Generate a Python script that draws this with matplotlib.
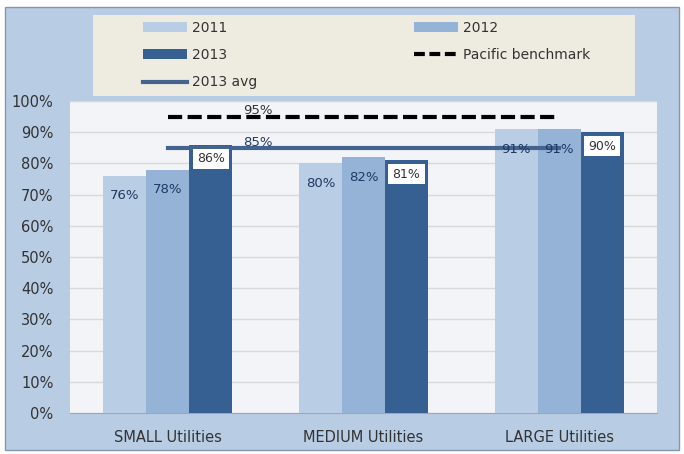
import numpy as np
import matplotlib.pyplot as plt
from matplotlib.patches import Rectangle, Patch
from matplotlib.lines import Line2D

categories = ["SMALL Utilities", "MEDIUM Utilities", "LARGE Utilities"]
vals_2011 = [0.76, 0.80, 0.91]
vals_2012 = [0.78, 0.82, 0.91]
vals_2013 = [0.86, 0.81, 0.90]
benchmark = 0.95
avg_2013 = 0.85
yticks = [0.0, 0.1, 0.2, 0.3, 0.4, 0.5, 0.6, 0.7, 0.8, 0.9, 1.0]

c2011 = "#b9cde5"
c2012 = "#95b3d7"
c2013 = "#376092"
cavg = "#44648f"
txt = "#333333"

fig = plt.figure(figsize=(6.84, 4.54), dpi=100)
fig.patch.set_facecolor("white")

# outer chart area
fig.patches.append(
    Rectangle(
        (5 / 684, 4 / 454),
        674 / 684,
        443 / 454,
        transform=fig.transFigure,
        facecolor="#b8cce4",
        edgecolor="#8497b0",
        linewidth=1,
        zorder=-2,
    )
)
# legend box
fig.patches.append(
    Rectangle(
        (93 / 684, 1 - 96 / 454),
        542 / 684,
        81 / 454,
        transform=fig.transFigure,
        facecolor="#eeece1",
        edgecolor="none",
        zorder=-1,
    )
)

ax = fig.add_axes([70 / 684, 1 - 413 / 454, 587 / 684, 312 / 454])
ax.set_zorder(2)
ax.set_facecolor("#f3f4f8")

x = np.arange(len(categories))
w = 0.22

b1 = ax.bar(x - w, vals_2011, w, color=c2011, zorder=3)
b2 = ax.bar(x, vals_2012, w, color=c2012, zorder=3)
b3 = ax.bar(x + w, vals_2013, w, color=c2013, zorder=3)

ax.plot([x[0], x[-1]], [benchmark, benchmark], color="black",
        linestyle=(0, (3.4, 1.3)), linewidth=3, zorder=5)
ax.plot([x[0], x[-1]], [avg_2013, avg_2013], color=cavg,
        linewidth=3, zorder=5)
ax.text(0.46, benchmark + 0.02, f"{benchmark:.0%}", ha="center", va="center",
        fontsize=9.5, color=txt, zorder=6)
ax.text(0.46, avg_2013 + 0.018, f"{avg_2013:.0%}", ha="center", va="center",
        fontsize=9.5, color="#1f3864", zorder=6)

for bars, vals in [(b1, vals_2011), (b2, vals_2012)]:
    for r, v in zip(bars, vals):
        ax.text(r.get_x() + r.get_width() / 2, v - 0.064, f"{v:.0%}",
                ha="center", va="center", fontsize=9.5, color="#1f3864", zorder=6)

box_h = 0.064
for r, v in zip(b3, vals_2013):
    cx = r.get_x() + r.get_width() / 2
    bw = r.get_width() * 0.84
    top = v - 0.013
    ax.add_patch(Rectangle((cx - bw / 2, top - box_h), bw, box_h,
                           facecolor="white", edgecolor="none", zorder=5))
    ax.text(cx, top - box_h / 2, f"{v:.0%}", ha="center", va="center",
            fontsize=9, color=txt, zorder=6)

ax.set_ylim(0, 1.0)
ax.set_xlim(-0.5, 2.5)
ax.set_yticks(yticks)
ax.set_yticklabels([f"{t:.0%}" for t in yticks], fontsize=10.5, color=txt)
ax.set_xticks(x)
ax.set_xticklabels(categories, fontsize=10.5, color=txt)
ax.tick_params(axis="y", length=0, pad=12)
ax.tick_params(axis="x", length=0, pad=12)
ax.grid(axis="y", color="#d9d9d9", linewidth=1, zorder=0)
for s in ["top", "right", "left"]:
    ax.spines[s].set_visible(False)
ax.spines["bottom"].set_color("#a6a6a6")

leg_kw = dict(frameon=False, fontsize=10, loc="upper left", borderpad=0,
              handlelength=3.2, handleheight=0.7, handletextpad=0.35,
              labelspacing=0.95, borderaxespad=0)
leg1 = fig.legend(
    [Patch(facecolor=c2011), Patch(facecolor=c2013),
     Line2D([], [], color=cavg, linewidth=3)],
    ["2011", "2013", "2013 avg"],
    bbox_to_anchor=(143 / 684, 1 - 21 / 454), **leg_kw)
leg2 = fig.legend(
    [Patch(facecolor=c2012),
     Line2D([], [], color="black", linewidth=3, linestyle=(0, (2.6, 1.1)))],
    ["2012", "Pacific benchmark"],
    bbox_to_anchor=(414 / 684, 1 - 21 / 454), **leg_kw)
for leg in (leg1, leg2):
    for t in leg.get_texts():
        t.set_color(txt)

fig.savefig("out.png", dpi=100)
